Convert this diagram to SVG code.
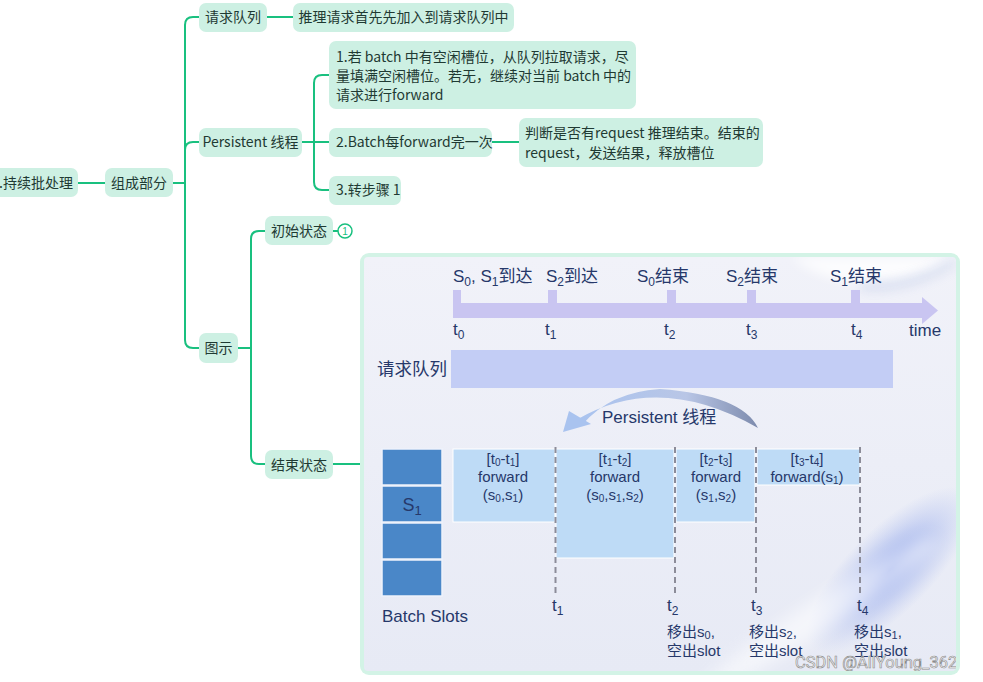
<svg xmlns="http://www.w3.org/2000/svg" width="983" height="682" viewBox="0 0 983 682">
<defs>
<style>
.n rect{fill:#cdf0e3;}
.n text{font-family:"Noto Sans CJK SC","Noto Sans",sans-serif;font-size:14px;fill:#1f3a33;}
.c path{fill:none;stroke:#19c07f;stroke-width:2;}
.im{font-family:"Liberation Sans","Noto Sans CJK SC",sans-serif;fill:#26386a;}
.tk{fill:#c9c5f1;}
.slot{fill:#4a87c8;stroke:#eef2fb;stroke-width:1.5;}
.fw{fill:#bedbf6;stroke:#ffffff;stroke-width:1;}
.dash{stroke:#8c8c99;stroke-width:2;stroke-dasharray:6 4;fill:none;}
</style>
<linearGradient id="bg" x1="0" y1="0" x2="0" y2="1">
<stop offset="0" stop-color="#f1f2f9"/>
<stop offset="1" stop-color="#e7eaf5"/>
</linearGradient>
<linearGradient id="arc" x1="0" y1="0" x2="1" y2="0">
<stop offset="0" stop-color="#a9c3ef"/>
<stop offset="0.6" stop-color="#b9c6e6"/>
<stop offset="1" stop-color="#7d8bad"/>
</linearGradient>
<radialGradient id="blob">
<stop offset="0" stop-color="#7d95e6" stop-opacity="0.85"/>
<stop offset="0.5" stop-color="#93a8ec" stop-opacity="0.45"/>
<stop offset="1" stop-color="#a9b9ef" stop-opacity="0"/>
</radialGradient>
<filter id="blur" x="-50%" y="-50%" width="200%" height="200%"><feGaussianBlur stdDeviation="8"/></filter>
<filter id="blur2" x="-50%" y="-50%" width="200%" height="200%"><feGaussianBlur stdDeviation="6"/></filter>
<clipPath id="imgclip"><rect x="364" y="257" width="592" height="414" rx="4"/></clipPath>
</defs>
<rect width="983" height="682" fill="#ffffff"/>

<g id="connectors" class="c">
<path d="M78,183 H105"/>
<path d="M173,183 H185"/>
<path d="M185,183 V25 Q185,17 193,17 H199"/>
<path d="M185,183 V150 Q185,142 193,142 H199"/>
<path d="M185,183 V340 Q185,348 193,348 H199"/>
<path d="M267,17 H293"/>
<path d="M302,142 H329"/>
<path d="M314,142 V83 Q314,75 322,75 H329"/>
<path d="M314,142 V182 Q314,190 322,190 H329"/>
<path d="M492,142 H519"/>
<path d="M238,348 H251"/>
<path d="M251,348 V239 Q251,231 259,231 H265"/>
<path d="M251,348 V456 Q251,464 259,464 H265"/>
<path d="M333,231 H338"/>
<path d="M333,464 H360"/>
</g>

<g id="root" class="n"><rect x="-10" y="168" width="88" height="29" rx="7"/><text x="73" y="188" text-anchor="end">.持续批处理</text></g>
<g id="zucheng" class="n"><rect x="105" y="168" width="68" height="29" rx="7"/><text x="139" y="188" text-anchor="middle">组成部分</text></g>
<g id="qingqiu" class="n"><rect x="199" y="3" width="68" height="29" rx="7"/><text x="233" y="22" text-anchor="middle">请求队列</text></g>
<g id="tuili" class="n"><rect x="293" y="3" width="221" height="29" rx="7"/><text x="403.5" y="22" text-anchor="middle">推理请求首先先加入到请求队列中</text></g>
<g id="persistent" class="n"><rect x="199" y="128" width="103" height="29" rx="7"/><text x="250.5" y="147" text-anchor="middle">Persistent 线程</text></g>
<g id="step1" class="n"><rect x="329" y="41" width="307" height="68" rx="7"/>
<text x="336" y="62">1.若 batch 中有空闲槽位，从队列拉取请求，尽</text>
<text x="336" y="81">量填满空闲槽位。若无，继续对当前 batch 中的</text>
<text x="336" y="100">请求进行forward</text></g>
<g id="step2" class="n"><rect x="329" y="128" width="163" height="29" rx="7"/><text x="336" y="147">2.Batch每forward完一次</text></g>
<g id="judge" class="n"><rect x="519" y="118" width="244" height="49" rx="7"/>
<text x="525" y="138">判断是否有request 推理结束。结束的</text>
<text x="525" y="158">request，发送结果，释放槽位</text></g>
<g id="step3" class="n"><rect x="329" y="176" width="72" height="29" rx="7"/><text x="336" y="195">3.转步骤 1</text></g>
<g id="tushi" class="n"><rect x="199" y="333" width="39" height="30" rx="7"/><text x="218.5" y="353" text-anchor="middle">图示</text></g>
<g id="chushi" class="n"><rect x="265" y="216" width="68" height="29" rx="7"/><text x="299" y="235.5" text-anchor="middle">初始状态</text></g>
<g id="badge"><circle cx="345" cy="231" r="7" fill="#ffffff" stroke="#19c07f" stroke-width="1.5"/><text x="345" y="234.5" text-anchor="middle" font-family="Liberation Sans, sans-serif" font-size="10" fill="#19c07f">1</text></g>
<g id="jieshu" class="n"><rect x="265" y="450" width="68" height="29" rx="7"/><text x="299" y="469.5" text-anchor="middle">结束状态</text></g>

<g id="illustration">
<rect x="360" y="253" width="600" height="422" rx="9" fill="#d3f3e6"/>
<g clip-path="url(#imgclip)">
<rect x="364" y="257" width="592" height="414" fill="url(#bg)"/>
<path d="M790,257 Q855,305 956,262 V257 Z" fill="#ffffff" opacity="0.8" filter="url(#blur2)"/>
<path d="M860,286 Q910,290 956,260" fill="none" stroke="#9aaedd" stroke-width="4" opacity="0.6" filter="url(#blur2)"/>
<ellipse cx="890" cy="570" rx="110" ry="42" transform="rotate(-45 890 570)" fill="url(#blob)"/>
<ellipse cx="820" cy="615" rx="140" ry="16" transform="rotate(-33 820 615)" fill="#ffffff" opacity="0.55" filter="url(#blur)"/>

<rect class="tk" x="453" y="303" width="470" height="15"/>
<polygon class="tk" points="922,297 938,310.5 922,324"/>
<rect class="tk" x="453" y="290" width="8" height="14"/>
<rect class="tk" x="548" y="290" width="9" height="14"/>
<rect class="tk" x="667" y="290" width="9" height="14"/>
<rect class="tk" x="747" y="290" width="9" height="14"/>
<rect class="tk" x="851" y="290" width="9" height="14"/>

<g class="im" font-size="17">
<text x="453" y="282">S<tspan dy="4" font-size="12">0</tspan><tspan dy="-4">, S</tspan><tspan dy="4" font-size="12">1</tspan><tspan dy="-4">到达</tspan></text>
<text x="546" y="282">S<tspan dy="4" font-size="12">2</tspan><tspan dy="-4">到达</tspan></text>
<text x="637" y="282">S<tspan dy="4" font-size="12">0</tspan><tspan dy="-4">结束</tspan></text>
<text x="726" y="282">S<tspan dy="4" font-size="12">2</tspan><tspan dy="-4">结束</tspan></text>
<text x="830" y="282">S<tspan dy="4" font-size="12">1</tspan><tspan dy="-4">结束</tspan></text>
<text x="453" y="335">t<tspan dy="4" font-size="12">0</tspan></text>
<text x="545" y="335">t<tspan dy="4" font-size="12">1</tspan></text>
<text x="664" y="335">t<tspan dy="4" font-size="12">2</tspan></text>
<text x="746" y="335">t<tspan dy="4" font-size="12">3</tspan></text>
<text x="851" y="335">t<tspan dy="4" font-size="12">4</tspan></text>
<text x="909" y="336">time</text>
<text x="377" y="375" font-size="17.5">请求队列</text>
<text x="602" y="423">Persistent 线程</text>
<text x="382" y="622">Batch Slots</text>
</g>

<rect x="451" y="350" width="442" height="38" fill="#c3cdf5"/>

<path d="M578,419 Q660,372 758,428 Q742,395 660,389 Q610,392 582,425 Z" fill="url(#arc)"/>
<polygon points="563,432 569,411 591,424" fill="#a9c3ef"/>

<rect class="slot" x="382" y="449" width="60" height="36"/>
<rect class="slot" x="382" y="486" width="60" height="36"/>
<rect class="slot" x="382" y="523" width="60" height="36"/>
<rect class="slot" x="382" y="560" width="60" height="36"/>
<text class="im" x="412" y="511" font-size="18" text-anchor="middle" fill="#1b3f82">S<tspan dy="4" font-size="13">1</tspan></text>

<rect class="fw" x="453" y="449" width="102" height="73"/>
<rect class="fw" x="556" y="449" width="118" height="109"/>
<rect class="fw" x="676" y="449" width="79" height="73"/>
<rect class="fw" x="757" y="449" width="103" height="36"/>

<path class="dash" d="M555.5,447 V596 M675,447 V596 M756,447 V596 M860,447 V596"/>

<g class="im" font-size="15" text-anchor="middle">
<text x="503" y="464">[t<tspan dy="2" font-size="10">0</tspan><tspan dy="-2">-t</tspan><tspan dy="2" font-size="10">1</tspan><tspan dy="-2">]</tspan></text>
<text x="503" y="482">forward</text>
<text x="503" y="500">(s<tspan dy="2" font-size="10">0</tspan><tspan dy="-2">,s</tspan><tspan dy="2" font-size="10">1</tspan><tspan dy="-2">)</tspan></text>
<text x="615" y="464">[t<tspan dy="2" font-size="10">1</tspan><tspan dy="-2">-t</tspan><tspan dy="2" font-size="10">2</tspan><tspan dy="-2">]</tspan></text>
<text x="615" y="482">forward</text>
<text x="615" y="500">(s<tspan dy="2" font-size="10">0</tspan><tspan dy="-2">,s</tspan><tspan dy="2" font-size="10">1</tspan><tspan dy="-2">,s</tspan><tspan dy="2" font-size="10">2</tspan><tspan dy="-2">)</tspan></text>
<text x="716" y="464">[t<tspan dy="2" font-size="10">2</tspan><tspan dy="-2">-t</tspan><tspan dy="2" font-size="10">3</tspan><tspan dy="-2">]</tspan></text>
<text x="716" y="482">forward</text>
<text x="716" y="500">(s<tspan dy="2" font-size="10">1</tspan><tspan dy="-2">,s</tspan><tspan dy="2" font-size="10">2</tspan><tspan dy="-2">)</tspan></text>
<text x="807" y="464">[t<tspan dy="2" font-size="10">3</tspan><tspan dy="-2">-t</tspan><tspan dy="2" font-size="10">4</tspan><tspan dy="-2">]</tspan></text>
<text x="807" y="482">forward(s<tspan dy="2" font-size="10">1</tspan><tspan dy="-2">)</tspan></text>
</g>

<g class="im" font-size="17">
<text x="552" y="611">t<tspan dy="4" font-size="12">1</tspan></text>
<text x="667" y="611">t<tspan dy="4" font-size="12">2</tspan></text>
<text x="751" y="611">t<tspan dy="4" font-size="12">3</tspan></text>
<text x="857" y="611">t<tspan dy="4" font-size="12">4</tspan></text>
</g>
<g class="im" font-size="15" fill="#1e2e5e">
<text x="667" y="637">移出s<tspan dy="2" font-size="11">0</tspan><tspan dy="-2">,</tspan></text>
<text x="667" y="656">空出slot</text>
<text x="749" y="637">移出s<tspan dy="2" font-size="11">2</tspan><tspan dy="-2">,</tspan></text>
<text x="749" y="656">空出slot</text>
<text x="854" y="637">移出s<tspan dy="2" font-size="11">1</tspan><tspan dy="-2">,</tspan></text>
<text x="854" y="656">空出slot</text>
</g>
<text x="795" y="668" font-family="Roboto, 'Liberation Sans', sans-serif" font-size="16.5" fill="#f7f7f7" stroke="#8a8a8a" stroke-width="0.6">CSDN @AllYoung_362</text>
</g>
</g>
</svg>
